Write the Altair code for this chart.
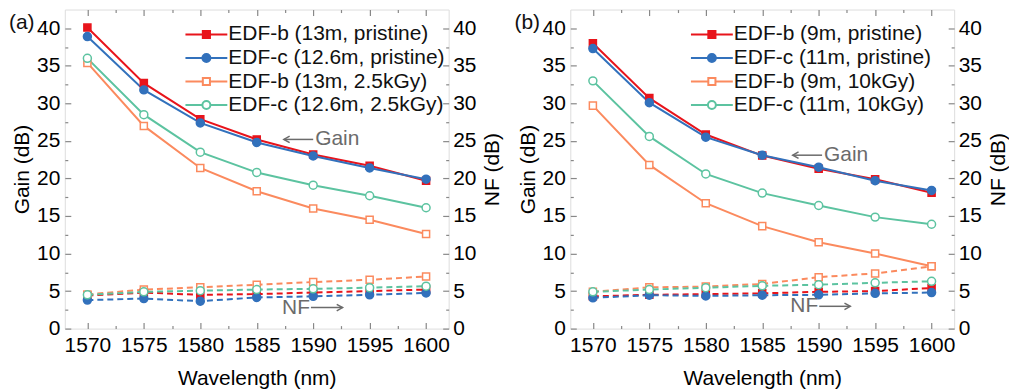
import altair as alt
import pandas as pd

# ---- measured values -------------------------------------------------------
wavelength = [1570, 1575, 1580, 1585, 1590, 1595, 1600]

# panel (a): 13 m / 12.6 m fibres, pristine and after 2.5 kGy
labels_a = ["EDF-b (13m, pristine)", "EDF-c (12.6m, pristine)",
            "EDF-b (13m, 2.5kGy)", "EDF-c (12.6m, 2.5kGy)"]
gain_b_a = [40.1, 32.7, 27.9, 25.2, 23.2, 21.7, 19.7]
gain_c_a = [38.9, 31.8, 27.4, 24.8, 23.0, 21.4, 19.9]
gain_b_irr_a = [35.4, 27.0, 21.4, 18.3, 16.0, 14.5, 12.6]
gain_c_irr_a = [36.0, 28.5, 23.5, 20.8, 19.1, 17.7, 16.1]
nf_b_a = [4.4, 4.8, 4.5, 4.6, 4.8, 5.0, 5.2]
nf_c_a = [3.8, 4.0, 3.65, 4.15, 4.3, 4.5, 4.75]
nf_b_irr_a = [4.55, 5.2, 5.5, 5.85, 6.2, 6.5, 6.95]
nf_c_irr_a = [4.5, 4.9, 5.05, 5.2, 5.3, 5.45, 5.65]

# panel (b): 9 m / 11 m fibres, pristine and after 10 kGy
labels_b = ["EDF-b (9m, pristine)", "EDF-c (11m, pristine)",
            "EDF-b (9m, 10kGy)", "EDF-c (11m, 10kGy)"]
gain_b_b = [38.0, 30.7, 25.85, 23.05, 21.3, 19.9, 18.1]
gain_c_b = [37.3, 30.1, 25.5, 23.1, 21.5, 19.7, 18.4]
gain_b_irr_b = [29.7, 21.8, 16.7, 13.65, 11.5, 10.0, 8.3]
gain_c_irr_b = [33.0, 25.6, 20.6, 18.05, 16.4, 14.85, 13.9]
nf_b_b = [4.3, 4.5, 4.6, 4.7, 4.9, 5.0, 5.4]
nf_c_b = [4.1, 4.45, 4.35, 4.45, 4.5, 4.7, 4.8]
nf_b_irr_b = [4.9, 5.5, 5.6, 5.95, 6.85, 7.35, 8.3]
nf_c_irr_b = [4.9, 5.2, 5.45, 5.7, 5.85, 6.1, 6.3]

# ---- styling ---------------------------------------------------------------
colors = ["#e8141b", "#3271bc", "#fb8a5e", "#5cc3a0"]
fills = ["#e8141b", "#3271bc", "#ffffff", "#ffffff"]
FONT = "Liberation Sans"
FS = 21
AX = "#333333"
NOTE = "#6b6b6b"

x_major = [1570, 1575, 1580, 1585, 1590, 1595, 1600]
x_minor = [1572.5, 1577.5, 1582.5, 1587.5, 1592.5, 1597.5]
y_major = [0, 5, 10, 15, 20, 25, 30, 35, 40]
y_minor = [2.5, 7.5, 12.5, 17.5, 22.5, 27.5, 32.5, 37.5]

xscale = alt.Scale(domain=[1568, 1602], nice=False, zero=False)
yscale = alt.Scale(domain=[0, 42.5], nice=False, zero=False)

# legend symbol paths: a line segment with the marker in the middle
sq = 0.17
ci = 0.19
path_sq = f"M-1,0L-{sq},0M{sq},0L1,0M-{sq},-{sq}L{sq},-{sq}L{sq},{sq}L-{sq},{sq}Z"
path_ci = (f"M-1,0L-{ci},0M{ci},0L1,0M-{ci},0"
           f"A{ci},{ci},0,1,1,{ci},0A{ci},{ci},0,1,1,-{ci},0Z")
legend_paths = [path_sq, path_ci, path_sq, path_ci]


def label_axis(orient, values, title, pad, tpad, **kw):
    return alt.Axis(orient=orient, values=values, ticks=False, domain=False,
                    grid=False, format="d", labelFontSize=FS, labelPadding=pad,
                    title=title, titleFontSize=FS, titlePadding=tpad,
                    titleFontWeight="normal", **kw)


def tick_axis(orient, values, size):
    return alt.Axis(orient=orient, values=values, labels=False, domain=False,
                    grid=False, ticks=True, tickSize=size, offset=-size,
                    tickWidth=1.2, title=None)


def make_panel(tag, labels, gains, nfs, gain_note, nf_note):
    rows = []
    for i, name in enumerate(labels):
        for j, wl in enumerate(wavelength):
            rows.append({"wl": wl, "series": name, "gain": gains[i][j],
                         "nf": nfs[i][j], "k": i})
    df = pd.DataFrame(rows)
    base = alt.Chart(df)
    squares = base.transform_filter("datum.k % 2 == 0")
    circles = base.transform_filter("datum.k % 2 == 1")

    color_plain = alt.Color("series:N", scale=alt.Scale(domain=labels, range=colors),
                            legend=None)
    fill_scale = alt.Scale(domain=labels, range=fills)
    fill_plain = alt.Fill("series:N", scale=fill_scale, legend=None)

    # legend: line + marker symbols built from the shape / fill / stroke scales
    legend = alt.Legend(
        orient="none", legendX=120, legendY=15, title=None, padding=0,
        labelFont=FONT, labelFontSize=FS, labelColor="#111111",
        labelLimit=400, labelOffset=0, clipHeight=20, rowPadding=2.6,
        symbolSize=1764, symbolStrokeWidth=2, symbolOpacity=1,
    )
    legend_layer = base.transform_filter("false").mark_point(
        opacity=1, strokeWidth=2, size=1764, filled=False,
    ).encode(
        shape=alt.Shape("series:N", scale=alt.Scale(domain=labels, range=legend_paths),
                        legend=legend),
        fill=alt.Fill("series:N", scale=fill_scale, legend=legend),
        stroke=alt.Stroke("series:N", scale=alt.Scale(domain=labels, range=colors),
                          legend=legend),
    )

    gain_lines = base.mark_line(strokeWidth=2).encode(
        x=alt.X("wl:Q", scale=xscale,
                axis=label_axis("bottom", x_major, "Wavelength (nm)", 6, 12)),
        y=alt.Y("gain:Q", scale=yscale,
                axis=label_axis("left", y_major, "Gain (dB)", 5, 4)),
        color=color_plain, detail="series:N",
    )
    nf_lines = base.mark_line(strokeWidth=2, strokeDash=[6, 4]).encode(
        x=alt.X("wl:Q", scale=xscale, axis=tick_axis("top", x_major, 6)),
        y=alt.Y("nf:Q", scale=yscale,
                axis=label_axis("right", y_major, "NF (dB)", 4, 6,
                                titleAngle=270, titleBaseline="top")),
        color=color_plain, detail="series:N",
    )
    pt = dict(strokeWidth=1.5, opacity=1, filled=False)
    gain_sq = squares.mark_point(shape="square", size=50, **pt).encode(
        x=alt.X("wl:Q", scale=xscale, axis=tick_axis("bottom", x_major, 6)),
        y=alt.Y("gain:Q", scale=yscale, axis=tick_axis("left", y_major, 6)),
        color=color_plain, fill=fill_plain,
    )
    gain_ci = circles.mark_point(shape="circle", size=64, **pt).encode(
        x=alt.X("wl:Q", scale=xscale, axis=None),
        y=alt.Y("gain:Q", scale=yscale, axis=None),
        color=color_plain, fill=fill_plain,
    )
    nf_sq = squares.mark_point(shape="square", size=50, **pt).encode(
        x=alt.X("wl:Q", scale=xscale, axis=tick_axis("top", x_minor, 3)),
        y=alt.Y("nf:Q", scale=yscale, axis=tick_axis("right", y_major, 6)),
        color=color_plain, fill=fill_plain,
    )
    nf_ci = circles.mark_point(shape="circle", size=64, **pt).encode(
        x=alt.X("wl:Q", scale=xscale, axis=None),
        y=alt.Y("nf:Q", scale=yscale, axis=None),
        color=color_plain, fill=fill_plain,
    )
    # carriers for the minor ticks on the bottom / left / right edges
    minor_a = base.mark_point(opacity=0).encode(
        x=alt.X("wl:Q", scale=xscale, axis=tick_axis("bottom", x_minor, 3)),
        y=alt.Y("gain:Q", scale=yscale, axis=tick_axis("left", y_minor, 3)),
    )
    minor_b = base.mark_point(opacity=0).encode(
        x=alt.X("wl:Q", scale=xscale, axis=None),
        y=alt.Y("nf:Q", scale=yscale, axis=tick_axis("right", y_minor, 3)),
    )

    # "<- Gain" and "NF ->" call-outs
    gx1, gx2, gy = gain_note
    nx1, nx2, ny = nf_note
    arrows = pd.DataFrame({"x": [gx1, nx1], "x2": [gx2, nx2], "y": [gy, ny]})
    arrow_lines = alt.Chart(arrows).mark_rule(color=NOTE, strokeWidth=1.5).encode(
        x=alt.X("x:Q", scale=xscale, axis=None), x2="x2:Q",
        y=alt.Y("y:Q", scale=yscale, axis=None),
    )
    head_l = alt.Chart(pd.DataFrame({"x": [gx1], "y": [gy]})).mark_point(
        shape="M1.8,-1L0,0L1.8,1", size=42, filled=False, color=NOTE,
        strokeWidth=1.5, opacity=1,
    ).encode(x=alt.X("x:Q", scale=xscale, axis=None),
             y=alt.Y("y:Q", scale=yscale, axis=None))
    head_r = alt.Chart(pd.DataFrame({"x": [nx2], "y": [ny]})).mark_point(
        shape="M-1.8,-1L0,0L-1.8,1", size=42, filled=False, color=NOTE,
        strokeWidth=1.5, opacity=1,
    ).encode(x=alt.X("x:Q", scale=xscale, axis=None),
             y=alt.Y("y:Q", scale=yscale, axis=None))
    gain_txt = alt.Chart(pd.DataFrame({"x": [gx2], "y": [gy], "t": ["Gain"]})).mark_text(
        align="left", baseline="middle", dx=2, font=FONT, fontSize=FS, color=NOTE,
    ).encode(x=alt.X("x:Q", scale=xscale, axis=None),
             y=alt.Y("y:Q", scale=yscale, axis=None), text="t:N")
    nf_txt = alt.Chart(pd.DataFrame({"x": [nx1], "y": [ny], "t": ["NF"]})).mark_text(
        align="right", baseline="middle", dx=-1, font=FONT, fontSize=FS, color=NOTE,
    ).encode(x=alt.X("x:Q", scale=xscale, axis=None),
             y=alt.Y("y:Q", scale=yscale, axis=None), text="t:N")
    tag_txt = alt.Chart(pd.DataFrame({"t": [tag]})).mark_text(
        align="left", baseline="middle", font=FONT, fontSize=FS, color="#111111",
    ).encode(x=alt.value(-56), y=alt.value(14), text="t:N")

    return alt.layer(
        legend_layer, gain_lines, nf_lines, gain_sq, gain_ci, nf_sq, nf_ci,
        minor_a, minor_b, arrow_lines, head_l, head_r, gain_txt, nf_txt, tag_txt,
    ).properties(width=385, height=320)


panel_a = make_panel(
    "(a)", labels_a,
    [gain_b_a, gain_c_a, gain_b_irr_a, gain_c_irr_a],
    [nf_b_a, nf_c_a, nf_b_irr_a, nf_c_irr_a],
    (1587.4, 1590.0, 25.2), (1589.8, 1592.6, 2.8),
)
panel_b = make_panel(
    "(b)", labels_b,
    [gain_b_b, gain_c_b, gain_b_irr_b, gain_c_irr_b],
    [nf_b_b, nf_c_b, nf_b_irr_b, nf_c_irr_b],
    (1587.7, 1590.3, 23.1), (1590.05, 1592.8, 2.97),
)

chart = alt.hconcat(panel_a, panel_b, spacing=10).resolve_scale(
    color="independent", fill="independent", shape="independent",
    stroke="independent",
).resolve_legend(
    fill="independent", shape="independent", stroke="independent",
).properties(
    padding={"left": 8, "top": 7, "right": 0, "bottom": 1},
).configure_view(
    stroke=AX, strokeWidth=1.3,
).configure_axis(
    labelFont=FONT, titleFont=FONT, labelColor="#111111", titleColor="#111111",
    tickColor=AX,
).configure(background="white")

chart.save("out.html", embed_options={"renderer": "svg", "actions": False})
